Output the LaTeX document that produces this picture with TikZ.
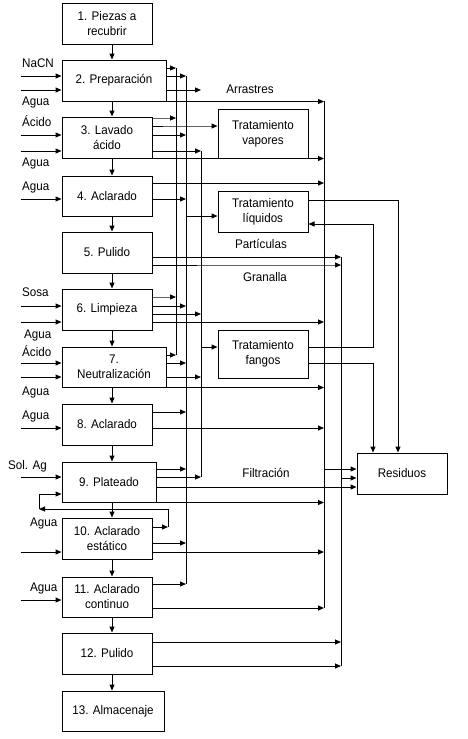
\documentclass[tikz,border=0pt]{standalone}
\usepackage{fontspec}
\setmainfont{Liberation Sans}[FakeStretch=0.93]
\usetikzlibrary{arrows.meta}
\newcommand\fs{\fontsize{12.5}{15}\selectfont}
\definecolor{gline}{RGB}{100,100,100}
\begin{document}
\begin{tikzpicture}[x=1pt,y=-1pt,
  box/.style={draw, line width=1pt, fill=white, align=center, inner sep=0pt, font=\fs, minimum height=41pt, minimum width=90pt},
  arr/.style={-{Triangle[length=6pt,width=5pt]}, line width=1pt},
  garr/.style={-{Triangle[length=6pt,width=5pt,color=black]}, line width=1pt, draw=gline},
  ln/.style={line width=1pt},
  lbl/.style={font=\fs, inner sep=0pt, anchor=west},
  rlbl/.style={font=\fs, inner sep=0pt}]
\useasboundingbox (0,0) rectangle (468,739);
\fill[white] (0,0) rectangle (468,739);
% collector positions
\coordinate (mx) at (112,0);
\coordinate (lx) at (21,0);
\coordinate (c1) at (176,0);
\coordinate (c2) at (186,0);
\coordinate (c3) at (201,0);
\coordinate (c4) at (324,0);
\coordinate (c5) at (341,0);
\coordinate (c6) at (373,0);
\coordinate (c7) at (398,0);
\coordinate (ae) at (201,90);
\coordinate (lp) at (168,527);
\coordinate (lq) at (39,509);
% boxes
\node[box] (b1) at (107,23.5) {1. Piezas a\\recubrir};
\node[box, minimum width=104pt] (b2) at (114,80.5) {2. Preparación};
\node[box] (b3) at (107,137.5) {3. Lavado\\ácido};
\node[box, minimum height=40pt] (b4) at (107,196) {4. Aclarado};
\node[box] (b5) at (107,252.5) {5. Pulido};
\node[box] (b6) at (107,309.5) {6. Limpieza};
\node[box, minimum width=104pt, minimum height=40pt] (b7) at (114,367) {7.\\Neutralización};
\node[box] (b8) at (107,424.5) {8. Aclarado};
\node[box, minimum width=94pt, minimum height=40pt] (b9) at (109,482) {9. Plateado};
\node[box] (b10) at (107,538.5) {10. Aclarado\\estático};
\node[box, minimum height=40pt] (b11) at (107,597) {11. Aclarado\\continuo};
\node[box] (b12) at (107,653.5) {12. Pulido};
\node[box, minimum width=102pt, minimum height=40pt] (b13) at (113,711) {13. Almacenaje};
\node[box, minimum height=49pt] (tv) at (263,133.5) {Tratamiento\\vapores};
\node[box] (tl) at (263,211.5) {Tratamiento\\líquidos};
\node[box, minimum height=48pt] (tf) at (263,354) {Tratamiento\\fangos};
\node[box] (res) at (402,473.5) {Residuos};
% main flow
\foreach \a/\b in {b1/b2,b2/b3,b3/b4,b4/b5,b5/b6,b6/b7,b7/b8,b8/b9,b9/b10,b10/b11,b11/b12,b12/b13}
  \draw[arr] (\a.south -| mx) -- (\b.north -| mx);
% left inputs
\foreach \b/\y in {b2/76,b2/90,b3/135,b3/151,b4/199,b6/306,b6/322,b7/363,b7/377,b8/428,b9/477,b10/552,b11/600}
  \draw[arr] (lx |- 0,\y) -- (\b.west |- 0,\y);
% left labels
\node[lbl] (l1) at (22,63) {NaCN};
\node[lbl] (l2) at (22,102) {Agua};
\node[lbl] (l3) at (22,121) {Ácido};
\node[lbl] (l4) at (22,163) {Agua};
\node[lbl] (l5) at (22,187) {Agua};
\node[lbl] (l6) at (22,292) {Sosa};
\node[lbl] (l7) at (24,335) {Agua};
\node[lbl] (l8) at (22,351) {Ácido};
\node[lbl] (l9) at (22,392) {Agua};
\node[lbl] (l10) at (22,416) {Agua};
\node[lbl] (l11) at (8,466) {Sol. Ag};
\node[lbl] (l12) at (30,523) {Agua};
\node[lbl] (l13) at (30,588) {Agua};
% right labels
\node[rlbl] (r1) at (250,89) {Arrastres};
\node[rlbl] (r2) at (261,244) {Partículas};
\node[rlbl] (r3) at (265,277) {Granalla};
\node[rlbl] (r4) at (266,473) {Filtración};
% outputs to collectors
\foreach \b/\y/\c in {b2/68/c1,b2/76/c2,b3/135/c2,b3/151/c3,b4/183/c4,b4/199/c2,
  b5/257/c5,b6/306/c2,b6/314/c3,b6/322/c4,b7/355/c1,b7/363/c2,b7/377/c3,
  b8/412/c2,b8/428/c4,b9/469/c2,b9/477/c3,b10/543/c2,b10/552/c4,b11/584/c2,b11/608/c4,
  b12/642/c5,b12/666/c5}
  \draw[arr] (\b.east |- 0,\y) -- (\c |- 0,\y);
\draw[arr] (b2.east |- 0,90) -- (ae);
\draw[arr] (b2.south east) -- (c4 |- b2.south east);
\draw[arr] (b3.south east) -- (c4 |- b3.south east);
\draw[arr] (b7.south east) -- (c4 |- b7.south east);
\draw[arr] (b9.south east) -- (c4 |- b9.south east);
\draw[arr] (b9.east |- 0,487) -- (res.west |- 0,487);
% gray lines
\draw[garr] (b3.east |- 0,118) -- (c1 |- 0,118);
\draw[garr] (b3.east |- 0,126) -- (tv.west |- 0,126);
\draw[ln] (b3.east |- 0,126) -- (163,126);
\draw[garr] (b6.east |- 0,297) -- (c1 |- 0,297);
\draw[garr] (b5.east |- 0,265) -- (c5 |- 0,265);
\draw[ln] (b5.east |- 0,265) -- (197,265);
% collectors
\draw[ln] (c1 |- 0,68) -- (c1 |- 0,355);
\draw[ln] (c2 |- 0,76) -- (c2 |- 0,584);
\draw[ln] (c3 |- 0,151) -- (c3 |- 0,477);
\draw[ln] (c4 |- 0,101) -- (c4 |- 0,608);
\draw[ln] (c5 |- 0,257) -- (c5 |- 0,666);
\draw[arr] (c2 |- 0,216) -- (tl.west |- 0,216);
\draw[arr] (c3 |- 0,347) -- (tf.west |- 0,347);
\draw[arr] (c4 |- 0,469) -- (res.west |- 0,469);
\draw[arr] (c5 |- 0,478) -- (res.west |- 0,478);
% treatment outputs
\draw[arr] (tl.east |- 0,200) -| (c7 |- res.north);
\draw[arr] (tf.east |- 0,347) -| (c6 |- 0,224) -- (tl.east |- 0,224);
\draw[arr] (tf.east |- 0,363) -| (c6 |- res.north);
% recirculation loop
\draw[arr] (b10.east |- lp) -- (lp);
\draw[arr] (lp) |- (lq);
\draw[arr] (lq) |- (b9.west |- 0,494);
\end{tikzpicture}
\end{document}
